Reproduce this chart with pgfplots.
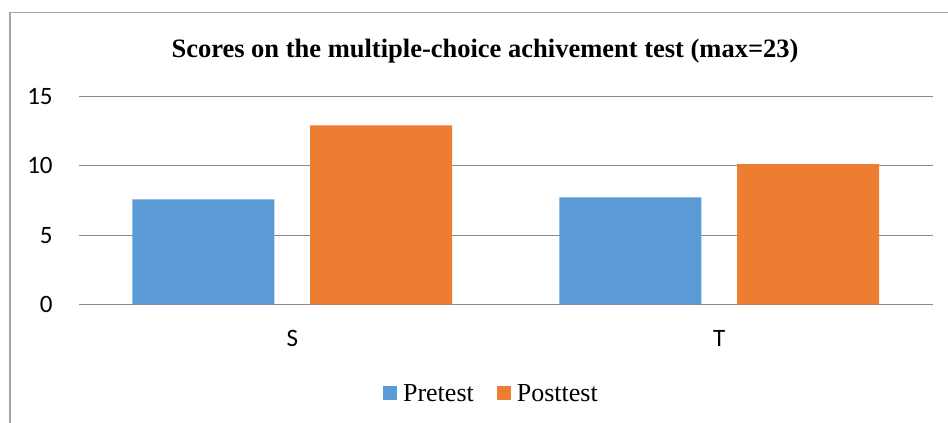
\documentclass[border=0pt]{standalone}
\usepackage{fontspec}
\setmainfont{Liberation Serif}
\newfontfamily\carlito{Carlito}
\usepackage{pgfplots}
\pgfplotsset{compat=1.18}

\definecolor{preblue}{HTML}{5B9BD5}
\definecolor{postorange}{HTML}{ED7D31}
\definecolor{gridgray}{HTML}{898989}
\definecolor{framegray}{HTML}{A6A6A6}

\begin{document}
\begin{tikzpicture}
\useasboundingbox (0pt,0pt) rectangle (948pt,-423pt);
% chart frame (cut off at the right and bottom)
\draw[framegray, line width=1.4pt] (10pt,-423pt) -- (10pt,-12.5pt) -- (948pt,-12.5pt);
\node[anchor=base, inner sep=0pt, font=\bfseries\fontsize{26.5}{30}\selectfont]
  at (485pt,-57.3pt) {Scores on the multiple-choice achivement test (max=23)};
\begin{axis}[
  at={(78.8pt,-304.3pt)}, anchor=south west,
  scale only axis,
  width=854pt, height=207.6pt,
  ybar=35.7pt, bar width=142pt,
  xmin=-0.5, xmax=1.5,
  ymin=0, ymax=15,
  xtick={0,1}, xticklabels={S,T},
  ytick={0,5,10,15},
  axis line style={draw=none},
  major tick length=0pt,
  ymajorgrids,
  major grid style={gridgray, line width=1.1pt},
  /pgf/number format/assume math mode=true,
  tick label style={font=\carlito\fontsize{25}{30}\selectfont},
  xticklabel style={anchor=base, inner sep=0pt, yshift=-42.4pt},
  yticklabel style={anchor=east, inner sep=0pt, xshift=-26pt},
  legend columns=2,
  legend style={draw=none, fill=none, inner sep=0pt,
    at={(axis description cs:0.482,-0.432)}, anchor=center,
    font=\fontsize{26}{30}\selectfont,
    nodes={inner sep=0pt},
    /tikz/every odd column/.append style={column sep=6pt},
    /tikz/every even column/.append style={column sep=23pt}},
  legend image code/.code={\fill[#1] (0pt,-6pt) rectangle (14pt,8pt);},
]
\addplot[fill=preblue, draw=none] coordinates {(0,7.59) (1,7.73)};
\addlegendentry{Pretest}
\addplot[fill=postorange, draw=none] coordinates {(0,12.93) (1,10.12)};
\addlegendentry{Posttest}
\end{axis}
\end{tikzpicture}
\end{document}
